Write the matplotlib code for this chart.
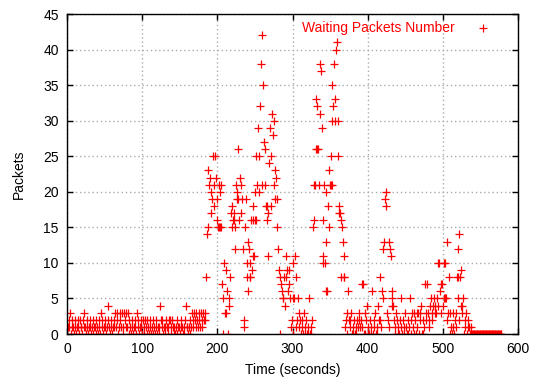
import numpy as np
import matplotlib
matplotlib.use("Agg")
import matplotlib.pyplot as plt

plt.rcParams['font.family'] = ['Liberation Sans', 'DejaVu Sans']

# Waiting packets, one reading per second starting at t = 0 s
packets = [
    # 0-184 quiet
    0,1,2,1,3,0,1,2,1,0,  1,2,0,1,2,1,0,2,1,1,  0,2,1,3,1,0,2,1,0,1,
    2,1,0,1,2,0,1,1,2,0,  1,0,2,1,0,3,1,2,0,1,  1,2,0,1,2,4,1,0,2,1,
    0,1,2,1,3,1,2,3,0,1,  3,2,1,3,0,1,3,2,1,3,  1,3,0,2,1,0,1,2,0,1,
    2,1,0,3,1,2,0,1,2,1,  0,2,1,0,2,1,0,2,1,0,  1,2,0,1,0,2,1,0,1,2,
    0,1,1,0,4,2,1,2,0,1,  1,0,2,1,0,1,2,2,1,0,  2,1,0,1,0,1,2,0,1,1,
    0,1,2,1,0,1,0,2,4,1,  1,0,1,2,0,1,3,1,2,3,  2,1,3,2,1,3,2,1,3,2,
    1,3,2,2,3,
    # 185-310 first burst
    8,14,15,23,21,22,17,20,19,25,  21,18,25,22,16,19,15,21,20,15,
    21,7,0,5,10,3,9,3,6,0,  4,5,8,17,15,18,16,17,15,12,
    21,20,26,19,16,22,17,21,19,12,  2,1,15,19,8,10,13,12,10,8,
    16,9,18,16,11,20,16,25,21,29,  25,20,32,38,21,42,35,27,26,21,
    18,16,11,17,24,29,25,18,31,28,  21,30,23,22,19,15,12,9,8,0,
    7,6,5,5,8,4,11,8,9,6,  9,7,5,1,2,0,10,5,11,8,
    1,2,5,3,1,2,
    # 311-326
    0,2,1,0,3,1,0,2,0,1,0,5,0,1,0,2,
    # 327-375 second burst
    15,16,21,21,33,26,32,26,21,31,  38,37,29,16,11,21,10,13,20,6,
    18,15,23,21,25,21,35,32,38,33,  30,40,41,30,25,18,17,8,16,15,
    13,11,8,1,2,0,3,6,2,
    # 376-415
    1,2,3,0,1,0,2,0,1,0,  2,1,3,2,1,2,7,1,7,0,
    3,0,2,4,0,1,0,2,0,1,  6,0,2,1,3,0,1,0,4,2,
    # 416-440 third burst
    8,2,1,6,12,5,13,19,20,18,  3,2,13,1,12,11,5,6,4,2,  0,1,3,2,0,
    # 441-489
    1,0,2,1,5,0,2,1,0,3,  1,0,2,0,1,5,0,2,3,1,  0,3,2,0,3,1,3,0,2,3,
    4,0,2,0,1,7,2,3,7,3,  2,1,4,5,3,2,4,5,3,
    # 490-539 fourth burst
    4,3,5,10,4,10,6,7,3,7,  4,10,5,10,5,13,2,3,8,0,
    3,1,0,3,1,0,2,1,3,8,  12,14,2,8,9,4,3,5,0,2,
    1,3,0,1,2,1,0,1,0,0,
    # 540-578 empty queue
    0,0,0,0,0,0,0,0,0,0,  0,0,0,0,0,0,0,0,0,0,
    0,0,0,0,0,0,0,0,0,0,  0,0,0,0,0,0,0,0,0,
]
seconds = list(range(len(packets)))

# additional readings sharing a second with another reading
extra_seconds = [202, 205, 222, 226, 241, 243, 247, 250, 266, 277, 300, 331,
                 340, 344, 351, 353, 362, 368, 432, 503, 520, 520, 524]
extra_packets = [15, 15, 16, 19, 6, 8, 11, 16, 18, 19, 5, 26,
                 10, 6, 21, 30, 17, 8, 4, 5, 8, 5, 4]

x_ticks = [0, 100, 200, 300, 400, 500, 600]
y_ticks = [0, 5, 10, 15, 20, 25, 30, 35, 40, 45]

FS = 10

fig = plt.figure(figsize=(5.33, 3.78), dpi=100)
ax = fig.add_axes([67/533, 1 - 334/378, 451/533, 320/378])

t_all = seconds + extra_seconds
p_all = packets + extra_packets
ax.plot(t_all, p_all, linestyle='none', marker='+', color='#ff0000',
        markersize=5.5, markeredgewidth=0.9, label='Waiting Packets Number')

ax.set_xlim(0, 600)
ax.set_ylim(0, 45)
ax.set_xticks(x_ticks)
ax.set_yticks(y_ticks)
ax.grid(True, color='#aaaaaa', linestyle=(0, (1, 2)), linewidth=1.0)
ax.set_axisbelow(True)
ax.tick_params(direction='in', length=4, width=1, top=True, right=True,
               labelsize=FS, colors='black')
ax.tick_params(axis='y', pad=6)
ax.tick_params(axis='x', pad=6)
for s in ax.spines.values():
    s.set_linewidth(1.0)
    s.set_color('black')

ax.set_xlabel('Time (seconds)', fontsize=FS, labelpad=5)
ax.set_ylabel('Packets', fontsize=FS, labelpad=12)

leg = ax.legend(loc='upper right', bbox_to_anchor=(0.966, 0.994), borderaxespad=0,
                frameon=False, markerfirst=False, fontsize=FS,
                handlelength=2, handletextpad=1.08, labelcolor='#ff0000')

fig.savefig('out.png', dpi=100)
